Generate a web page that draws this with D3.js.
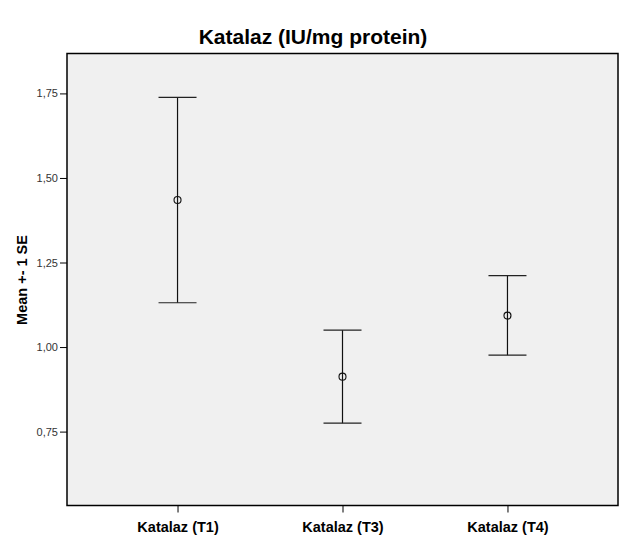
<!DOCTYPE html>
<html><head><meta charset="utf-8">
<script src="https://cdn.jsdelivr.net/npm/d3@7"></script>
<style>body{margin:0;background:#fff;}svg{display:block;}</style>
</head><body>
<script>
const categories = ["Katalaz (T1)", "Katalaz (T3)", "Katalaz (T4)"];
const means = [1.435, 0.9125, 1.093];
const upper = [1.738, 1.050, 1.211];
const lower = [1.131, 0.775, 0.976];
const yTicks = [0.75, 1.00, 1.25, 1.50, 1.75];

const W = 626, H = 541;
const m = {left: 67, right: 618, top: 53.5, bottom: 505.5};
const svg = d3.select("body").append("svg").attr("width", W).attr("height", H);

const x = d3.scalePoint().domain(categories).range([m.left, m.right]).padding(0.67);
const y = d3.scaleLinear().domain([0.5315, 1.868]).range([m.bottom, m.top]);

svg.append("rect").attr("x", m.left).attr("y", m.top)
  .attr("width", m.right - m.left).attr("height", m.bottom - m.top)
  .attr("fill", "#f0f0f0").attr("stroke", "#000").attr("stroke-width", 1.5);

svg.append("text").attr("x", 313).attr("y", 44).attr("text-anchor", "middle")
  .attr("font-family", "Liberation Sans, Arial, sans-serif").attr("font-weight", "bold")
  .attr("font-size", 21).text("Katalaz (IU/mg protein)");

const yAxis = d3.axisLeft(y).tickValues(yTicks).tickSize(7).tickPadding(2)
  .tickFormat(d => d3.format(".2f")(d).replace(".", ","));
const gy = svg.append("g").attr("transform", `translate(${m.left},0)`).call(yAxis);
gy.select(".domain").remove();
gy.selectAll(".tick line").attr("stroke", "#000");
gy.selectAll(".tick text").attr("font-family", "Liberation Sans, Arial, sans-serif")
  .attr("font-size", 11).attr("fill", "#333");

const xAxis = d3.axisBottom(x).tickSize(7).tickPadding(9);
const gx = svg.append("g").attr("transform", `translate(0,${m.bottom})`).call(xAxis);
gx.select(".domain").remove();
gx.selectAll(".tick line").attr("stroke", "#000");
gx.selectAll(".tick text").attr("font-family", "Liberation Sans, Arial, sans-serif")
  .attr("font-weight", "bold").attr("font-size", 14.5).attr("fill", "#000");

svg.append("text").attr("transform", "translate(27,280) rotate(-90)")
  .attr("text-anchor", "middle").attr("font-family", "Liberation Sans, Arial, sans-serif")
  .attr("font-weight", "bold").attr("font-size", 14.5).text("Mean +- 1 SE");

const cap = 19;
const g = svg.append("g");
categories.forEach((c, i) => {
  const cx = x(c);
  g.append("line").attr("x1", cx).attr("x2", cx).attr("y1", y(upper[i])).attr("y2", y(lower[i]))
    .attr("stroke", "#111").attr("stroke-width", 1.2);
  [upper[i], lower[i]].forEach(v => {
    g.append("line").attr("x1", cx - cap).attr("x2", cx + cap).attr("y1", y(v)).attr("y2", y(v))
      .attr("stroke", "#222").attr("stroke-width", 1.2);
  });
  g.append("circle").attr("cx", cx).attr("cy", y(means[i])).attr("r", 3.5)
    .attr("fill", "none").attr("stroke", "#111").attr("stroke-width", 1.1);
});
</script>
</body></html>
